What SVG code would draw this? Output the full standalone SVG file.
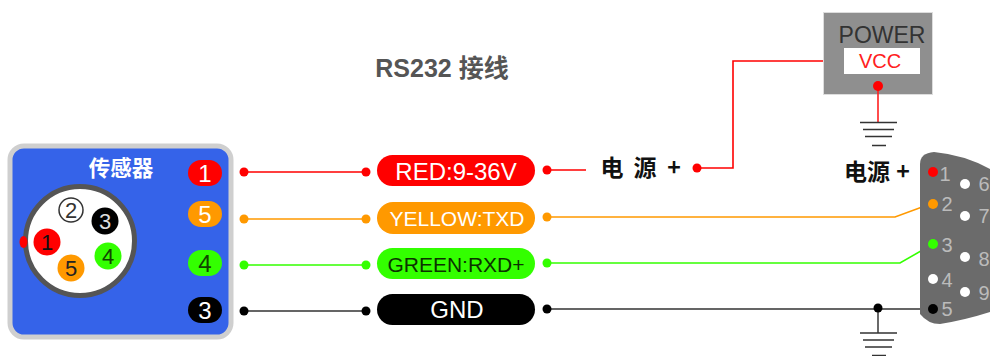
<svg xmlns="http://www.w3.org/2000/svg" width="990" height="356" viewBox="0 0 990 356">
<style>
text{font-family:"Liberation Sans","Noto Sans CJK SC",sans-serif;text-anchor:middle}
.cn{font-family:"Noto Sans CJK SC","Liberation Sans",sans-serif;font-weight:700}
.w{fill:none;stroke-width:1.6}
.r{fill:#ff0000}.o{fill:#ff9900}.g{fill:#33ff00}.k{fill:#000}
.pt{font-size:24px;fill:#fff}
.pl{font-size:24px}
.gnd{stroke:#333;stroke-width:1.6;fill:none}
.pin{font-size:20px;fill:#bbb}
</style>
<rect width="990" height="356" fill="#fff"/>
<g id="title"><text x="442" y="77" font-size="25" font-weight="700" fill="#555" xml:space="preserve">RS232 接线</text></g>
<g id="connectors">
<path class="w" stroke="#ff0000" d="M244 172H366M547 170H586M697 168H733V61H823"/>
<path class="w" stroke="#ff9900" d="M244 219H366M547 217H895L933 203"/>
<path class="w" stroke="#33ff00" d="M244 265H366M547 263H900L933 244"/>
<path class="w" stroke="#333" d="M244 311H366M547 309H933"/>
<path class="w" stroke="#444" d="M878 308V333"/>
<g class="r"><circle cx="244" cy="172" r="4.5"/><circle cx="366" cy="172" r="4.5"/><circle cx="547" cy="170" r="4.5"/><circle cx="697" cy="168" r="4.5"/></g>
<g class="o"><circle cx="244" cy="219" r="4.5"/><circle cx="366" cy="219" r="4.5"/><circle cx="547" cy="217" r="4.5"/></g>
<g class="g"><circle cx="244" cy="265" r="4.5"/><circle cx="366" cy="265" r="4.5"/><circle cx="547" cy="263" r="4.5"/></g>
<g class="k"><circle cx="244" cy="311" r="4.5"/><circle cx="366" cy="311" r="4.5"/><circle cx="547" cy="309" r="4.5"/><circle cx="878" cy="308" r="4.5"/></g>
</g>
<g id="sensor">
<rect x="10" y="146" width="221" height="191" rx="14" fill="#3563e9" stroke="#cfcfcf" stroke-width="5"/>
<text class="cn" x="121" y="176" font-size="21.500" fill="#fff">传感器</text>
<circle cx="80" cy="241" r="54.500" fill="#fff" stroke="#555" stroke-width="5"/>
<ellipse cx="23.500" cy="242" rx="4" ry="6" fill="#ff0000"/>
<circle cx="71" cy="210" r="12" fill="#fff" stroke="#333" stroke-width="1.500"/><text x="71" y="218" font-size="22" fill="#333">2</text>
<circle cx="105" cy="221" r="13.500" class="k"/><text x="105" y="229" font-size="22" fill="#ddd">3</text>
<circle cx="47" cy="242" r="13.500" class="r"/><text x="47" y="250" font-size="22" fill="#111">1</text>
<circle cx="71" cy="268" r="13.500" class="o"/><text x="71" y="276" font-size="22" fill="#222">5</text>
<circle cx="108" cy="256" r="13.500" class="g"/><text x="108" y="264" font-size="22" fill="#114400">4</text>
</g>
<g id="pin-1"><rect x="188" y="160" width="34" height="26" rx="13" class="r"/><text class="pt" x="205" y="182">1</text></g>
<g id="pin-5"><rect x="188" y="201" width="34" height="26" rx="13" class="o"/><text class="pt" x="205" y="223">5</text></g>
<g id="pin-4"><rect x="188" y="250" width="34" height="26" rx="13" class="g"/><text class="pl" x="205" y="272" fill="#114400">4</text></g>
<g id="pin-3"><rect x="188" y="297" width="34" height="26" rx="13" class="k"/><text class="pt" x="205" y="319">3</text></g>
<g id="wire-red"><rect x="377" y="155" width="158" height="31" rx="15.500" class="r"/><text class="pt" x="456" y="180">RED:9-36V</text></g>
<g id="wire-yellow"><rect x="377" y="202" width="158" height="32" rx="16" class="o"/><text class="pt" x="457" y="226" style="font-size:21px">YELLOW:TXD</text></g>
<g id="wire-green"><rect x="377" y="248" width="158" height="31" rx="15.500" class="g"/><text x="456" y="272" font-size="21" fill="#0b3300">GREEN:RXD+</text></g>
<g id="wire-gnd"><rect x="377" y="294" width="158" height="31" rx="15.500" class="k"/><text class="pt" x="457" y="318" fill="#eee">GND</text></g>
<g id="label-power"><text class="cn" font-size="23" fill="#111" x="612" y="176">电</text><text class="cn" font-size="23" fill="#111" x="645" y="176">源</text><text class="cn" font-size="23" fill="#111" x="674" y="176">+</text></g>
<g id="power">
<rect x="823.500" y="12.500" width="109" height="82" fill="#8f8f8f" stroke="#ddd"/>
<text x="882" y="43" font-size="23" fill="#333">POWER</text>
<rect x="844" y="48" width="76" height="26" fill="#fff"/>
<text x="880" y="68" font-size="20" fill="#ff2020">VCC</text>
<path d="M878 86V122" stroke="#ff2020" stroke-width="1.600"/>
<circle cx="878" cy="86" r="5" class="r"/>
</g>
<g id="ground-power"><path class="gnd" d="M860 122.500H897M863 129.500H894M865 136.500H892M872 145.500H886"/></g>
<g id="ground-bus"><path class="gnd" d="M860 333H897M863 340H894M865 347H892M872 355.500H886"/></g>
<g id="label-db9"><text class="cn" x="867" y="180" font-size="23" fill="#111">电源</text><text class="cn" x="903" y="180" font-size="23" fill="#111">+</text></g>
<g id="db9">
<path d="M920 164Q920 153 934 152Q965 155 990 169V312Q965 320 940 324Q928 324 920 314Z" fill="#6b6b6b"/>
<circle cx="933" cy="172" r="5" class="r"/>
<circle cx="933" cy="204" r="5" class="o"/>
<circle cx="933" cy="244" r="5" class="g"/>
<circle cx="933" cy="279" r="5" fill="#fff"/>
<circle cx="933" cy="309" r="5" class="k"/>
<circle cx="965" cy="184" r="5" fill="#fff"/>
<circle cx="965" cy="216" r="5" fill="#fff"/>
<circle cx="965" cy="257" r="5" fill="#fff"/>
<circle cx="965" cy="292" r="5" fill="#fff"/>
<text class="pin" x="945" y="181">1</text><text class="pin" x="947" y="211">2</text><text class="pin" x="947" y="252">3</text><text class="pin" x="947" y="287">4</text><text class="pin" x="947" y="316">5</text>
<text class="pin" x="984" y="191">6</text><text class="pin" x="984" y="223">7</text><text class="pin" x="984" y="266">8</text><text class="pin" x="984" y="300">9</text>
</g>
</svg>
